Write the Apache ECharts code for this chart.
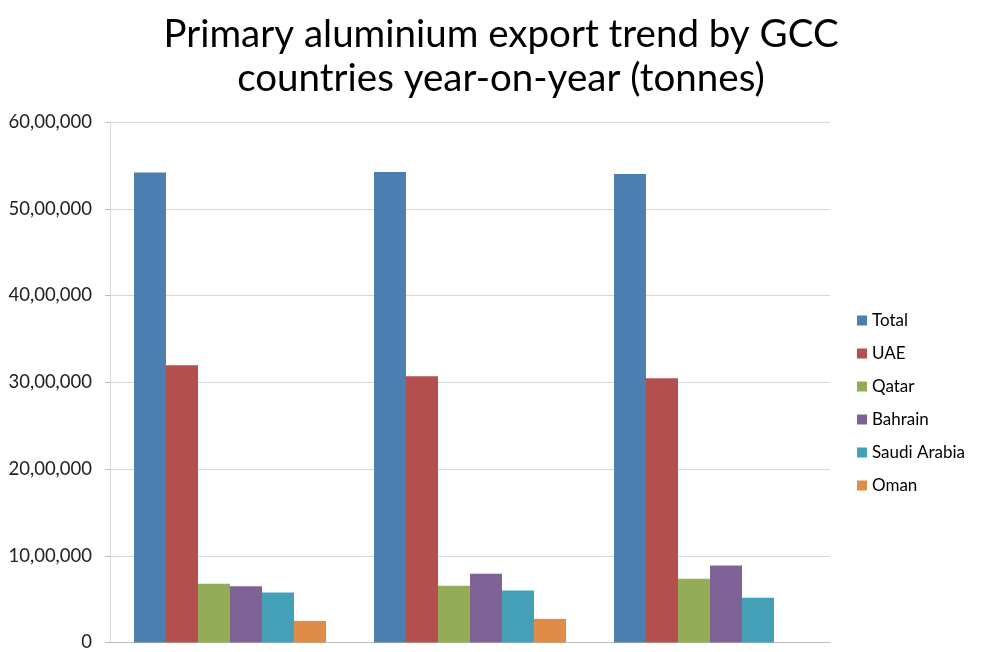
<!DOCTYPE html>
<html><head><meta charset="utf-8">
<script src="https://cdn.jsdelivr.net/npm/echarts@6/dist/echarts.min.js"></script>
<style>html,body{margin:0;padding:0;background:#fff}#c{width:985px;height:652px}</style>
</head><body><div id="c"></div>
<script>
const categories = ['2014', '2015', '2016'];
const seriesNames = ['Total', 'UAE', 'Qatar', 'Bahrain', 'Saudi Arabia', 'Oman'];
const total = [5417000, 5425000, 5402000];
const uae = [3195000, 3069000, 3046000];
const qatar = [678000, 655000, 736000];
const bahrain = [647000, 793000, 889000];
const saudiArabia = [575000, 598000, 517000];
const oman = [249000, 272000, null];
const yTicks = [0, 1000000, 2000000, 3000000, 4000000, 5000000, 6000000];

const colors = ['#4D7EB0', '#B3504D', '#93AC58', '#7F6397', '#44A0B6', '#DE8C47'];
const values = [total, uae, qatar, bahrain, saudiArabia, oman];

function indianFormat(v) {
  if (v === 0) return '0';
  const s = String(Math.round(v));
  const last3 = s.slice(-3);
  let rest = s.slice(0, -3);
  const parts = [];
  while (rest.length > 2) { parts.unshift(rest.slice(-2)); rest = rest.slice(0, -2); }
  if (rest.length) parts.unshift(rest);
  return parts.join(',') + ',' + last3;
}

const font = 'Lato, "Open Sans", sans-serif';
const chart = echarts.init(document.getElementById('c'), null, {renderer: 'canvas'});
chart.setOption({
  animation: false,
  color: colors,
  title: {
    text: 'Primary aluminium export trend by GCC\ncountries year-on-year (tonnes)',
    left: 496, top: 8, textAlign: 'center',
    textStyle: {fontFamily: font, fontSize: 38.5, fontWeight: 'normal', color: '#000', lineHeight: 44}
  },
  legend: {
    orient: 'vertical', left: 852, top: 307, itemWidth: 10, itemHeight: 10, itemGap: 16,
    icon: 'rect',
    textStyle: {fontFamily: font, fontSize: 17, color: '#000'},
    data: seriesNames
  },
  grid: {left: 110, right: 155, top: 122, bottom: 8, containLabel: false},
  xAxis: {
    type: 'category', data: categories,
    axisLine: {lineStyle: {color: '#BFBFBF'}},
    axisTick: {show: false},
    axisLabel: {show: false}
  },
  yAxis: {
    type: 'value', min: yTicks[0], max: yTicks[yTicks.length - 1], interval: 1000000,
    axisLine: {show: true, lineStyle: {color: '#D9D9D9'}},
    axisTick: {show: true, length: 5, lineStyle: {color: '#BFBFBF'}},
    splitLine: {lineStyle: {color: '#D9D9D9'}},
    axisLabel: {fontFamily: font, fontSize: 18.5, color: '#222', margin: 18, formatter: indianFormat}
  },
  series: seriesNames.map((n, i) => ({
    name: n, type: 'bar', data: values[i],
    barGap: '0%', barCategoryGap: '20%'
  }))
});
</script></body></html>
